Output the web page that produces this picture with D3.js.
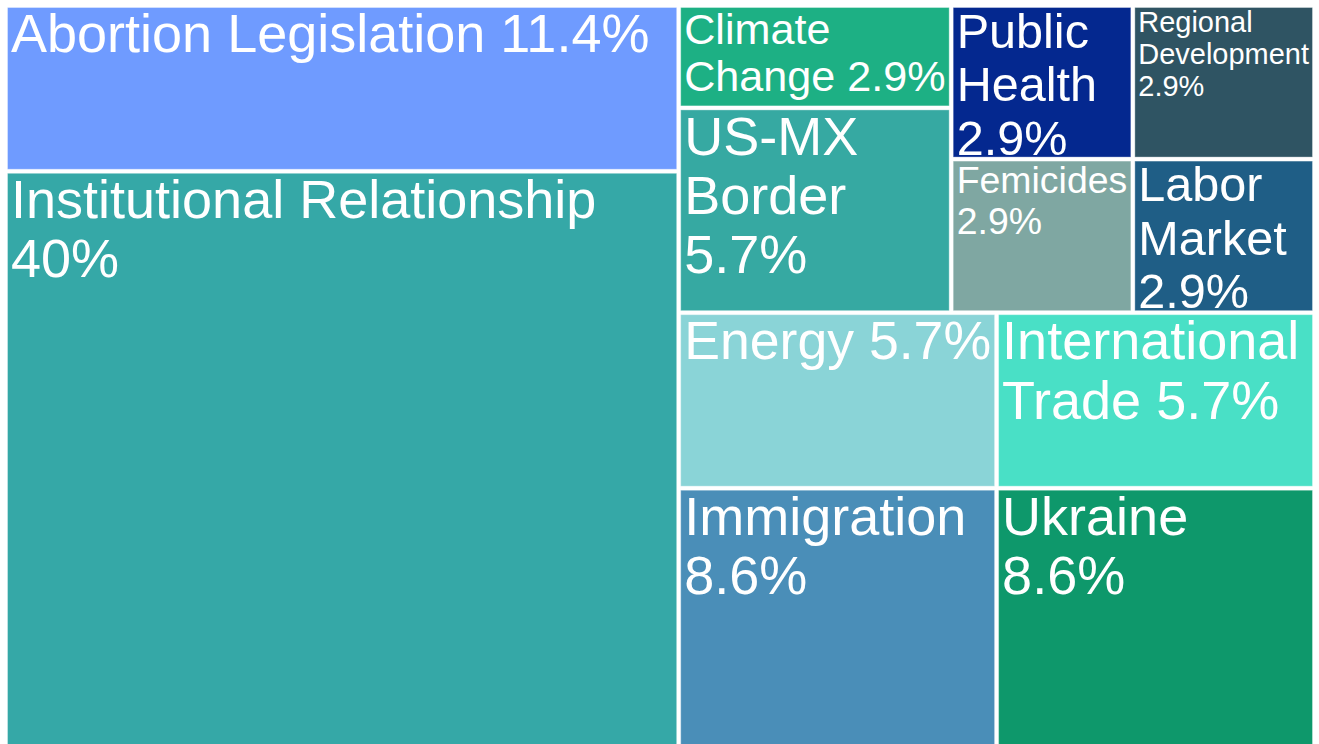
<!DOCTYPE html>
<html>
<head>
<meta charset="utf-8">
<script src="https://cdn.jsdelivr.net/npm/d3@7"></script>
<style>
  body { margin: 0; background: #fff; }
  svg { display: block; font-family: "Liberation Sans", Arial, sans-serif; }
</style>
</head>
<body>
<div id="chart"></div>
<script>
// topics and number of mentions (35 in total)
const categories = ["Abortion Legislation", "Institutional Relationship", "Climate Change", "US-MX Border",
  "Public Health", "Regional Development", "Femicides", "Labor Market",
  "Energy", "International Trade", "Immigration", "Ukraine"];
const values = [4, 14, 1, 2, 1, 1, 1, 1, 2, 2, 3, 3];
// how each label is written, "{p}" is the share of the total
const labelTemplates = ["Abortion Legislation {p}", "Institutional Relationship\n{p}", "Climate\nChange {p}", "US-MX\nBorder\n{p}",
  "Public\nHealth\n{p}", "Regional\nDevelopment\n{p}", "Femicides\n{p}", "Labor\nMarket\n{p}",
  "Energy {p}", "International\nTrade {p}", "Immigration\n{p}", "Ukraine\n{p}"];
// grouping of the tiles
const groups = ["L", "L", "R/T/A", "R/T/A", "R/T/B/1", "R/T/B/1", "R/T/B/2", "R/T/B/2",
  "R/M", "R/M", "R/Bt", "R/Bt"];
const colors = ["#6f9bff", "#35a8a7", "#1db084", "#36a9a2", "#04288f", "#2f5463",
  "#7fa7a2", "#1f5e86", "#8ad4d7", "#49e0c6", "#4a8eb8", "#0e986b"];

const width = 1319, height = 744;
const margin = { top: 7, left: 7, right: 6 };
const total = d3.sum(values);
const fmt = d3.format(".1~%");

// build nested tree from the group paths
const root = { name: "root", children: [] };
categories.forEach((c, i) => {
  let node = root;
  groups[i].split("/").forEach(key => {
    let child = node.children.find(d => d.name === key);
    if (!child) { child = { name: key, children: [] }; node.children.push(child); }
    node = child;
  });
  node.children.push({ name: c, value: values[i], index: i });
});

const hier = d3.hierarchy(root).sum(d => d.value || 0);

d3.treemap()
  .tile(d3.treemapSliceDice)
  .size([width - margin.left - margin.right, 743])
  .paddingInner(3)
  .round(false)(hier);

const svg = d3.select("#chart")
  .append("svg")
  .attr("width", width)
  .attr("height", height)
  .attr("viewBox", [0, 0, width, height]);

const plot = svg.append("g")
  .attr("transform", `translate(${margin.left},${margin.top})`);

const leaf = plot.selectAll("g.leaf")
  .data(hier.leaves())
  .join("g")
  .attr("class", "leaf");

leaf.append("clipPath")
  .attr("id", (d, i) => "clip" + i)
  .append("rect")
  .attr("x", d => d.x0)
  .attr("y", d => d.y0)
  .attr("width", d => d.x1 - d.x0)
  .attr("height", d => d.y1 - d.y0);

leaf.append("rect")
  .attr("x", d => d.x0 + 0.5)
  .attr("y", d => d.y0 + 0.5)
  .attr("width", d => d.x1 - d.x0 - 1)
  .attr("height", d => d.y1 - d.y0 - 1)
  .attr("fill", d => colors[d.data.index])
  .attr("stroke", "rgba(255,255,255,0.35)")
  .attr("stroke-width", 1);

const maxFont = 54, lineGap = 1.1;

leaf.each(function(d, i) {
  const g = d3.select(this);
  const lines = labelTemplates[d.data.index]
    .replace("{p}", fmt(d.value / total))
    .split("\n");
  const text = g.append("text")
    .attr("clip-path", `url(#clip${i})`)
    .attr("fill", "#fff")
    .attr("font-size", 100);
  const spans = lines.map(l => text.append("tspan").text(l));
  const widest = d3.max(spans, s => s.node().getComputedTextLength()) / 100;
  const w = d.x1 - d.x0, h = d.y1 - d.y0;
  const fs = Math.min(maxFont, (w - 8) / widest, h / ((lines.length - 1) * lineGap + 0.9));
  text.attr("font-size", fs);
  spans.forEach((s, k) => s
    .attr("x", d.x0 + 4)
    .attr("y", d.y0 + 2 + 0.8 * fs + k * lineGap * fs));
});
</script>
</body>
</html>
